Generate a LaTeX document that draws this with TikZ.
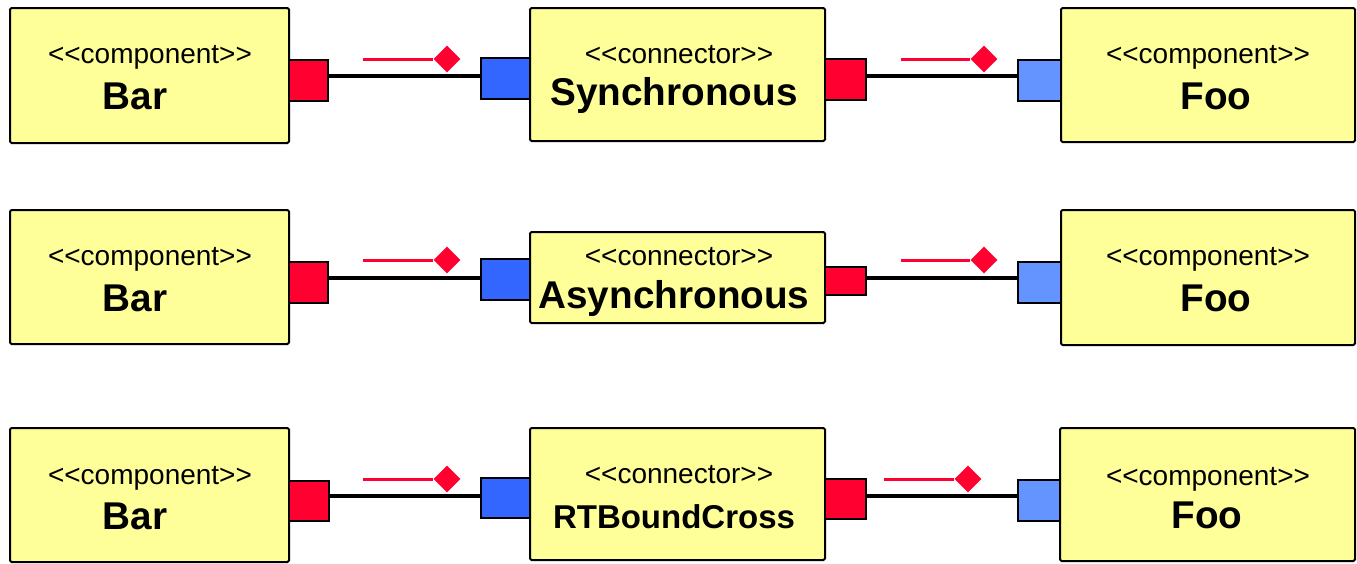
\documentclass[tikz,border=0pt]{standalone}
\usepackage{fontspec}
\setmainfont{Liberation Sans}
\usetikzlibrary{shapes.geometric}
\definecolor{boxyellow}{HTML}{FFFF99}
\definecolor{portred}{HTML}{FF0030}
\definecolor{portblue}{HTML}{3366FF}
\definecolor{portlight}{HTML}{6394FF}
\newcommand{\rbox}[6]{\node[#2, minimum width={(#5-(#3))*1pt}, minimum height={(#6-(#4))*1pt}] (#1) at ({(#3+#5)/2},{(#4+#6)/2}) {};}
\newcommand{\stcomp}{<\kern0pt<component>\kern0pt>}
\newcommand{\stconn}{<\kern0pt<connector>\kern0pt>}
\begin{document}
\begin{tikzpicture}[x=1pt,y=-1pt,
  ubox/.style={rectangle, draw=black, line width=2pt, fill=boxyellow, rounded corners=1.5pt, inner sep=0pt},
  rport/.style={rectangle, draw=black, line width=2pt, fill=portred, inner sep=0pt},
  bport/.style={rectangle, draw=black, line width=2pt, fill=portblue, inner sep=0pt},
  lport/.style={rectangle, draw=black, line width=2pt, fill=portlight, inner sep=0pt},
  link/.style={draw=black, line width=4.5pt},
  dep/.style={draw=portred, line width=3pt},
  diam/.style={diamond, fill=portred, inner sep=0pt, minimum size=27pt},
  stereo/.style={anchor=base, inner sep=0pt, font=\fontsize{28}{30}\selectfont},
  cname/.style={anchor=base, inner sep=0pt, font=\fontsize{38.7}{40}\selectfont\bfseries},
  cnamesmall/.style={anchor=base, inner sep=0pt, font=\fontsize{33}{35}\selectfont\bfseries}]
\useasboundingbox (0,0) rectangle (1357,563);

% ---------- Row 1 ----------
\rbox{bar1}{ubox}{10}{8}{289}{143}
\rbox{conn1}{ubox}{530}{8}{825}{141}
\rbox{foo1}{ubox}{1061}{8}{1355}{142}
\rbox{pr1a}{rport}{289}{60}{328}{101}
\rbox{pb1a}{bport}{481}{58}{530}{99}
\rbox{pr1b}{rport}{825}{59}{866}{100}
\rbox{pl1b}{lport}{1018}{60}{1061}{101}
\draw[link] (pr1a.east |- 0,76) -- (pb1a.west |- 0,76);
\draw[link] (pr1b.east |- 0,76) -- (pl1b.west |- 0,76);
\coordinate (s1a) at (363,59);
\node[diam] (d1a) at (447,59) {};
\draw[dep] (s1a) -- (d1a.west);
\coordinate (s1b) at (901,59);
\node[diam] (d1b) at (984,59) {};
\draw[dep] (s1b) -- (d1b.west);
\node[stereo] (t1a) at (150,63) {\stcomp};
\node[cname] (n1a) at (135,109) {Bar};
\node[stereo] (t1b) at (679,63) {\stconn};
\node[cname] (n1b) at (674,105) {Synchronous};
\node[stereo] (t1c) at (1208,63) {\stcomp};
\node[cname] (n1c) at (1216,109) {Foo};

% ---------- Row 2 ----------
\rbox{bar2}{ubox}{10}{210}{289}{344}
\rbox{conn2}{ubox}{530}{232}{825}{323}
\rbox{foo2}{ubox}{1061}{210}{1355}{345}
\rbox{pr2a}{rport}{289}{262}{328}{303}
\rbox{pb2a}{bport}{481}{259}{530}{300}
\rbox{pr2b}{rport}{825}{267}{866}{295}
\rbox{pl2b}{lport}{1018}{262}{1061}{303}
\draw[link] (pr2a.east |- 0,278) -- (pb2a.west |- 0,278);
\draw[link] (pr2b.east |- 0,278) -- (pl2b.west |- 0,278);
\coordinate (s2a) at (363,260);
\node[diam] (d2a) at (447,260) {};
\draw[dep] (s2a) -- (d2a.west);
\coordinate (s2b) at (901,260);
\node[diam] (d2b) at (984,260) {};
\draw[dep] (s2b) -- (d2b.west);
\node[stereo] (t2a) at (150,265) {\stcomp};
\node[cname] (n2a) at (135,311) {Bar};
\node[stereo] (t2b) at (679,265) {\stconn};
\node[cname] (n2b) at (674,308) {Asynchronous};
\node[stereo] (t2c) at (1208,265) {\stcomp};
\node[cname] (n2c) at (1216,311) {Foo};

% ---------- Row 3 ----------
\rbox{bar3}{ubox}{10}{428}{289}{562}
\rbox{conn3}{ubox}{530}{428}{825}{560}
\rbox{foo3}{ubox}{1060}{428}{1355}{561}
\rbox{pr3a}{rport}{289}{481}{329}{521}
\rbox{pb3a}{bport}{481}{478}{530}{518}
\rbox{pr3b}{rport}{825}{479}{866}{519}
\rbox{pl3b}{lport}{1018}{480}{1060}{521}
\draw[link] (pr3a.east |- 0,496) -- (pb3a.west |- 0,496);
\draw[link] (pr3b.east |- 0,496) -- (pl3b.west |- 0,496);
\coordinate (s3a) at (363,479);
\node[diam] (d3a) at (447,479) {};
\draw[dep] (s3a) -- (d3a.west);
\coordinate (s3b) at (884,479);
\node[diam] (d3b) at (968,479) {};
\draw[dep] (s3b) -- (d3b.west);
\node[stereo] (t3a) at (150,484) {\stcomp};
\node[cname] (n3a) at (135,529) {Bar};
\node[stereo] (t3b) at (679,483) {\stconn};
\node[cnamesmall] (n3b) at (674,528) {RTBoundCross};
\node[stereo] (t3c) at (1208,485) {\stcomp};
\node[cname] (n3c) at (1207,528) {Foo};
\end{tikzpicture}
\end{document}
